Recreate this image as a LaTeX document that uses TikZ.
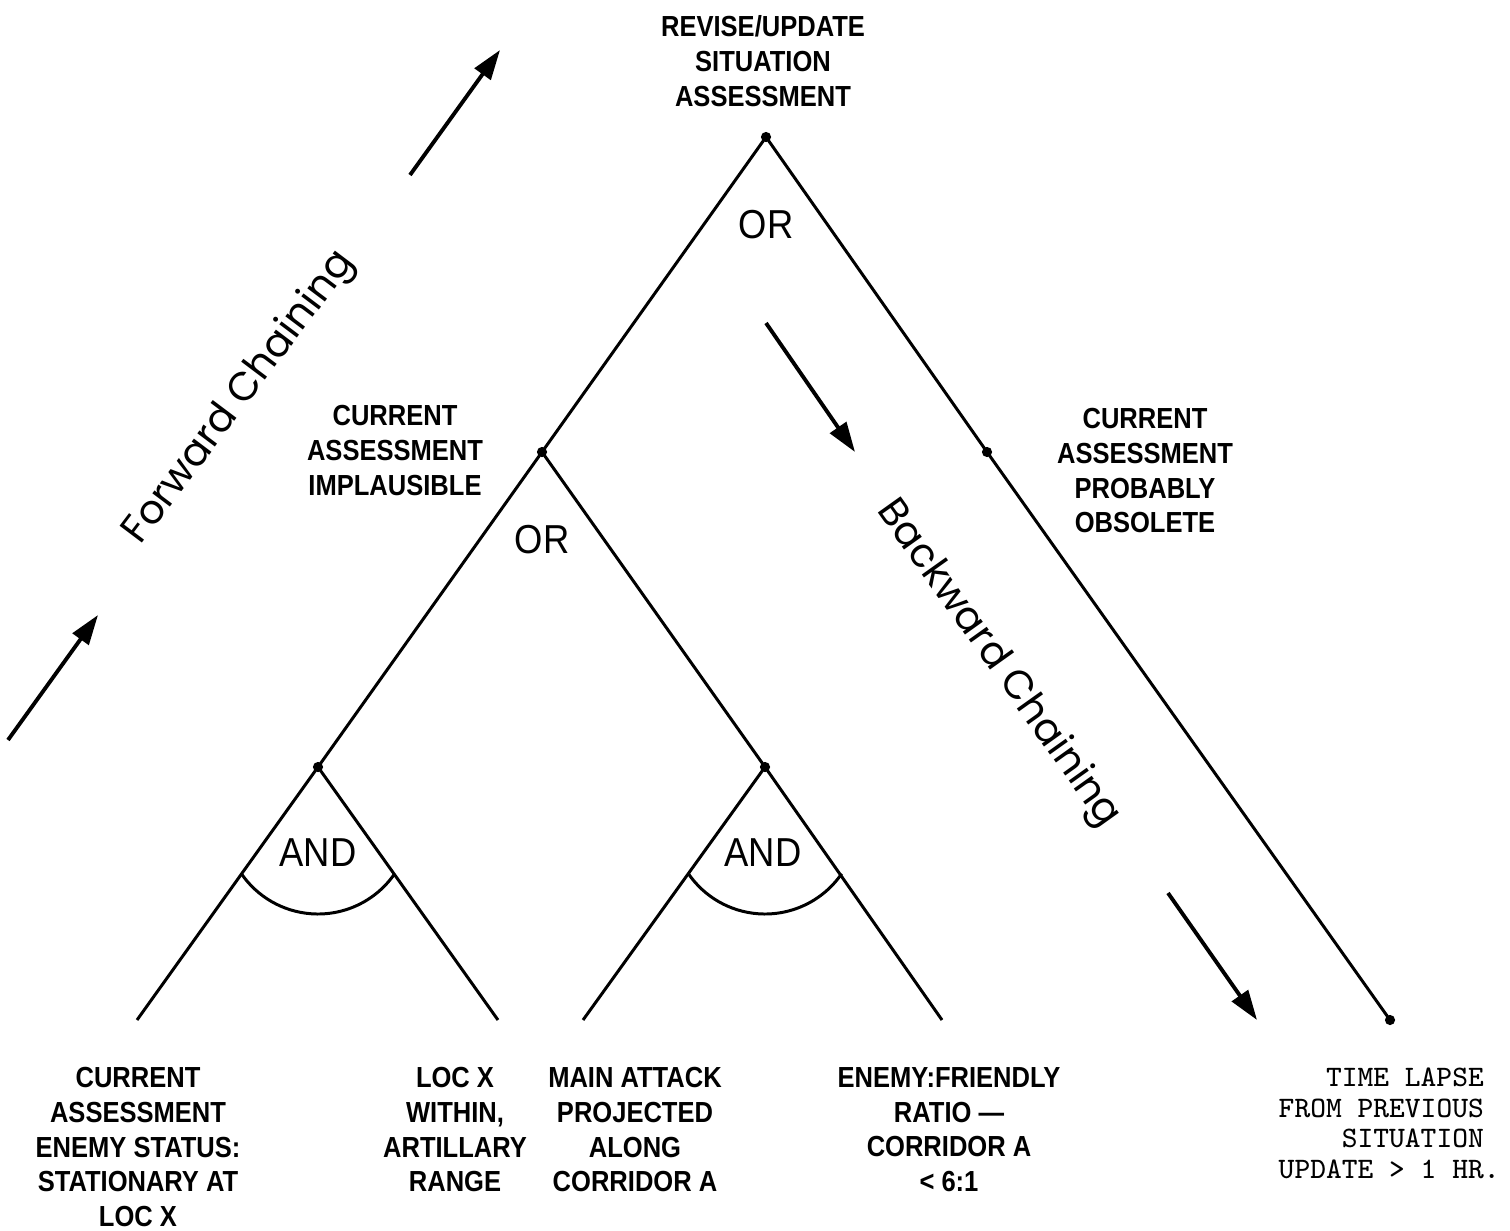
\documentclass[tikz,border=0pt]{standalone}
\usepackage{fontspec}
\usetikzlibrary{arrows.meta}
\setmainfont{Liberation Sans}
\newfontfamily\labelfont[FakeStretch=0.88]{Liberation Sans}
\newfontfamily\gatefont[FakeStretch=0.9]{Liberation Sans}
\newfontfamily\chainfont{Poppins}
\begin{document}
\begin{tikzpicture}[x=0.01cm,y=-0.01cm,
  tree/.style={line width=0.85pt},
  dot/.style={circle, fill, inner sep=0pt, minimum size=2.9pt},
  flow/.style={line width=1.1pt, -{Triangle[length=8.5pt,width=5.5pt]}},
  lbl/.style={align=center, inner sep=0pt, anchor=north,
    font={\labelfont\bfseries\fontsize{8.25}{9.85}\selectfont}},
  gate/.style={inner sep=0pt, font={\gatefont\fontsize{11.5}{12}\selectfont}},
  chain/.style={inner sep=0pt, font={\chainfont\fontsize{11.4}{14}\selectfont}},
  mono/.style={align=left, inner sep=0pt, anchor=north west,
    font={\ttfamily\fontsize{8.45}{8.75}\selectfont\addfontfeature{FakeBold=1.2}}}]
\useasboundingbox (0,0) rectangle (1510,1230);

% junction dots of the goal tree
\node[dot] (top) at (766,137) {};
\node[dot] (implaus) at (542,452) {};
\node[dot] (obsol) at (987,452) {};
\node[dot] (and1) at (318,767) {};
\node[dot] (and2) at (765,767) {};
\node[dot] (lapse) at (1390,1020) {};

% leaf ends
\coordinate (leafA) at (137,1020);
\coordinate (leafB) at (498,1020);
\coordinate (leafC) at (583,1020);
\coordinate (leafD) at (942,1020);

% branches
\draw[tree] (implaus.center) -- (top.center) -- (obsol.center) -- (lapse.center);
\draw[tree] (and1.center) -- (implaus.center) -- (and2.center);
\draw[tree] (leafA) -- (and1.center) -- (leafB);
\draw[tree] (leafC) -- (and2.center) -- (leafD);

% AND arcs
\coordinate (arcA) at (318,821);
\coordinate (arcB) at (765,821);
\draw[tree] ([shift={(34.5:93)}]arcA) arc[start angle=34.5, end angle=145.5, radius=93];
\draw[tree] ([shift={(34.5:93)}]arcB) arc[start angle=34.5, end angle=145.5, radius=93];

% gate labels
\node[gate] (or1) at (766,225) {OR};
\node[gate] (or2) at (542,540) {OR};
\node[gate] (andA) at (318,853) {AND};
\node[gate] (andB) at (763,853) {AND};

% node texts
\node[lbl] (goal) at (763,15) {REVISE/UPDATE\\SITUATION\\ASSESSMENT};
\node[lbl] (implausTxt) at (395,405) {CURRENT\\ASSESSMENT\\IMPLAUSIBLE};
\node[lbl] (obsolTxt) at (1145,408) {CURRENT\\ASSESSMENT\\PROBABLY\\OBSOLETE};
\node[lbl] (leafAtxt) at (138,1067) {CURRENT\\ASSESSMENT\\ENEMY STATUS:\\STATIONARY AT\\LOC X};
\node[lbl] (leafBtxt) at (455,1067) {LOC X\\WITHIN,\\ARTILLARY\\RANGE};
\node[lbl] (leafCtxt) at (635,1067) {MAIN ATTACK\\PROJECTED\\ALONG\\CORRIDOR A};
\node[lbl] (leafDtxt) at (949,1067) {ENEMY:FRIENDLY\\RATIO —\\CORRIDOR A\\< 6:1};
\node[mono] (lapseTxt) at (1278,1067) {\hphantom{XXX}TIME LAPSE\\FROM PREVIOUS\\\hphantom{XXXX}SITUATION\\UPDATE > 1 HR.};

% chaining directions
\node[chain, rotate=53] (fwd) at (240,398) {Forward Chaining};
\node[chain, rotate=-54.5] (bwd) at (998,664) {Backward Chaining};

\coordinate (f1s) at (8,740);   \coordinate (f1e) at (98,615);
\coordinate (f2s) at (410,175); \coordinate (f2e) at (500,50);
\coordinate (b1s) at (766,323); \coordinate (b1e) at (855,452);
\coordinate (b2s) at (1168,893); \coordinate (b2e) at (1257,1020);
\draw[flow] (f1s) -- (f1e);
\draw[flow] (f2s) -- (f2e);
\draw[flow] (b1s) -- (b1e);
\draw[flow] (b2s) -- (b2e);
\end{tikzpicture}
\end{document}
